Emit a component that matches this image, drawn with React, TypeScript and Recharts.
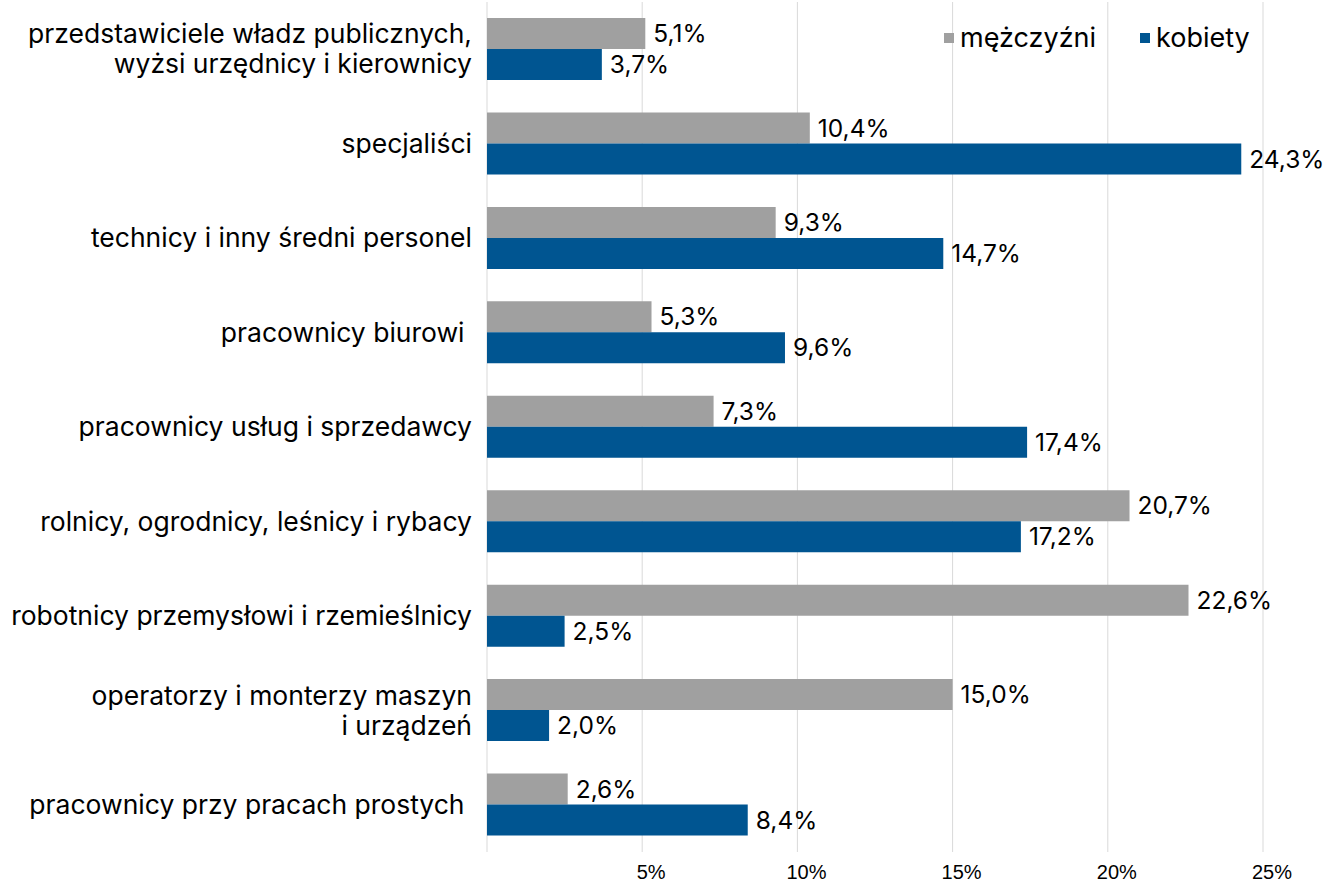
import { BarChart, Bar, XAxis, YAxis, CartesianGrid, LabelList } from 'recharts'

const categories = [
  'przedstawiciele władz publicznych,\nwyżsi urzędnicy i kierownicy',
  'specjaliści',
  'technicy i inny średni personel',
  'pracownicy biurowi ',
  'pracownicy usług i sprzedawcy',
  'rolnicy, ogrodnicy, leśnicy i rybacy',
  'robotnicy przemysłowi i rzemieślnicy',
  'operatorzy i monterzy maszyn\ni urządzeń',
  'pracownicy przy pracach prostych ',
]
const men = [5.1, 10.4, 9.3, 5.3, 7.3, 20.7, 22.6, 15.0, 2.6]
const women = [3.7, 24.3, 14.7, 9.6, 17.4, 17.2, 2.5, 2.0, 8.4]
const xTicks = [0, 5, 10, 15, 20, 25]

const GRAY = '#A0A0A0'
const BLUE = '#005591'
const FONT = 'Inter, "Noto Sans", sans-serif'

const data = categories.map((c, i) => ({ name: c, men: men[i], women: women[i] }))

const fmt = (v: number) => v.toFixed(1).replace('.', ',') + '%'

function CategoryTick(props: any) {
  const { x, y, payload } = props
  const lines = String(payload.value).split('\n')
  const lh = 30
  const start = -((lines.length - 1) * lh) / 2
  return (
    <text x={x} y={y} textAnchor="end" fill="#000" fontSize={26.5} fontFamily={FONT} style={{ whiteSpace: 'pre' }}>
      {lines.map((l, i) => (
        <tspan key={i} x={x} y={y + start + i * lh} dy="0.35em">{l}</tspan>
      ))}
    </text>
  )
}

function PercentTick(props: any) {
  const { x, y, payload } = props
  if (payload.value === 0) return null
  return (
    <text x={x + 9} y={y} dy="0.71em" textAnchor="middle" fill="#000" fontSize={20}
      fontFamily='"Liberation Sans Narrow", "Arial Narrow", "Liberation Sans", sans-serif'>
      {payload.value}%
    </text>
  )
}

function ValueLabel(props: any) {
  const { x, y, width, height, value } = props
  return (
    <text x={x + width + 8} y={y + height / 2} dy="0.35em" fill="#000" fontSize={24.5} fontFamily={FONT}>
      {fmt(value)}
    </text>
  )
}

function LegendBox() {
  const item = (color: string, label: string) => (
    <div style={{ display: 'flex', alignItems: 'center', gap: 6 }}>
      <div style={{ width: 10, height: 10, background: color }} />
      <span style={{ fontSize: 27, fontFamily: FONT, color: '#000' }}>{label}</span>
    </div>
  )
  return (
    <div style={{ position: 'absolute', left: 944, top: 21, display: 'flex', gap: 44 }}>
      {item(GRAY, 'mężczyźni')}
      {item(BLUE, 'kobiety')}
    </div>
  )
}

export default function App() {
  return (
    <div style={{ position: 'absolute', left: 0, top: 0, width: 1323, height: 884, background: '#fff' }}>
      <BarChart
        width={1323}
        height={884}
        data={data}
        layout="vertical"
        margin={{ top: 2, right: 60, bottom: 0, left: 0 }}
        barGap={0}
        barCategoryGap={16}
      >
        <CartesianGrid horizontal={false} vertical stroke="#D9D9D9" />
        <XAxis
          type="number"
          domain={[0, 25]}
          ticks={xTicks}
          axisLine={false}
          tickLine={false}
          tickSize={0}
          tickMargin={13}
          height={32}
          tick={<PercentTick />}
          interval={0}
        />
        <YAxis
          type="category"
          dataKey="name"
          width={487}
          axisLine={false}
          tickLine={false}
          tickSize={0}
          tickMargin={15}
          tick={<CategoryTick />}
          interval={0}
        />
        <Bar dataKey="men" fill={GRAY} barSize={31} isAnimationActive={false}>
          <LabelList dataKey="men" content={<ValueLabel />} />
        </Bar>
        <Bar dataKey="women" fill={BLUE} barSize={31} isAnimationActive={false}>
          <LabelList dataKey="women" content={<ValueLabel />} />
        </Bar>
      </BarChart>
      <LegendBox />
    </div>
  )
}
